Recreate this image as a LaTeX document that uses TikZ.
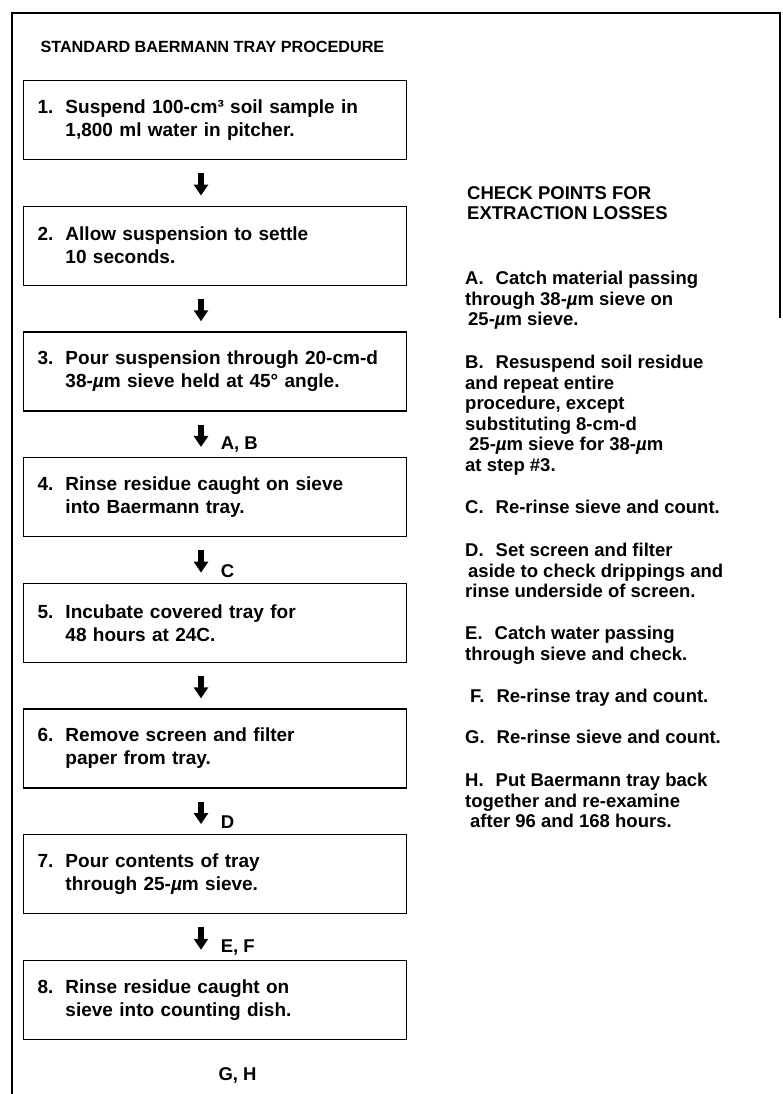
\documentclass[tikz,border=0pt]{standalone}
\usepackage{fontspec}
\setsansfont{Liberation Sans}
\usetikzlibrary{arrows.meta}
\newcommand{\mcr}{{\itshape µ}m}
\newcommand{\chk}[1]{#1\hspace{12pt}}
\newcommand{\stepno}[1]{\makebox[28pt][l]{#1}}
\newcommand{\stepin}{\hspace*{28pt}}
\tikzset{
  stepbox/.style={draw, line width=1.3pt, minimum width=383pt, minimum height=79pt,
    text width=355pt, align=left, inner sep=0pt,
    font=\fontsize{19}{23}\selectfont\sffamily\bfseries},
  flowarrow/.style={line width=6pt, -{Triangle[width=14pt,length=11pt]},
    shorten <=13pt, shorten >=10pt},
  arrowlabel/.style={anchor=west, xshift=13.5pt, yshift=12pt,
    font=\fontsize{18.5}{20.5}\selectfont\sffamily\bfseries},
  checktext/.style={anchor=north west, align=left, inner sep=0pt,
    font=\fontsize{18.5}{20.5}\selectfont\sffamily\bfseries}
}
\begin{document}
\begin{tikzpicture}[x=1pt, y=-1pt, every node/.style={font=\sffamily\bfseries}]
  \useasboundingbox (0,0) rectangle (783,1094);
  % outer frame
  \draw[line width=1.4pt] (12,1094) -- (12,13) -- (780,13) -- (780,318);
  \node[anchor=west, font=\fontsize{16.2}{20}\selectfont\sffamily\bfseries] (title) at (37,47)
    {STANDARD BAERMANN TRAY PROCEDURE};
  % procedure steps
  \foreach \i/\txt in {
      1/{\stepno{1.}Suspend 100-cm³ soil sample in\\\stepin 1,800 ml water in pitcher.},
      2/{\stepno{2.}Allow suspension to settle\\\stepin 10 seconds.},
      3/{\stepno{3.}Pour suspension through 20-cm-d\\\stepin 38-\mcr{} sieve held at 45° angle.},
      4/{\stepno{4.}Rinse residue caught on sieve\\\stepin into Baermann tray.},
      5/{\stepno{5.}Incubate covered tray for\\\stepin 48 hours at 24C.},
      6/{\stepno{6.}Remove screen and filter\\\stepin paper from tray.},
      7/{\stepno{7.}Pour contents of tray\\\stepin through 25-\mcr{} sieve.},
      8/{\stepno{8.}Rinse residue caught on\\\stepin sieve into counting dish.}} {
    \node[stepbox] (s\i) at (215,{120+(\i-1)*125.7}) {\txt};
  }
  \foreach \i/\j/\lab in {1/2/{}, 2/3/{}, 3/4/{A, B}, 4/5/C, 5/6/{}, 6/7/D, 7/8/{E, F}} {
    \draw[flowarrow] ([xshift=-14pt]s\i.south) -- ([xshift=-14pt]s\j.north)
      node[arrowlabel] (l\i) {\lab};
  }
  \node[arrowlabel, xshift=-13.5pt, yshift=-12pt] (gh) at ([yshift=-35pt]s8.south) {G, H};
  % check points
  \node[checktext] (head) at (467,186) {CHECK POINTS FOR\\EXTRACTION LOSSES};
  \node[checktext] (ca) at (465,271) {\chk{A.}Catch material passing\\through 38-\mcr{} sieve on\\\hspace*{3pt}25-\mcr{} sieve.};
  \node[checktext] (cb) at (465,355) {\chk{B.}Resuspend soil residue\\and repeat entire\\procedure, except\\substituting 8-cm-d\\\hspace*{4pt}25-\mcr{} sieve for 38-\mcr\\at step \#3.};
  \node[checktext] (cc) at (465,500) {\chk{C.}Re-rinse sieve and count.};
  \node[checktext] (cd) at (465,543) {\chk{D.}Set screen and filter\\\hspace*{3pt}aside to check drippings and\\rinse underside of screen.};
  \node[checktext] (ce) at (465,626) {\chk{E.}Catch water passing\\through sieve and check.};
  \node[checktext] (cf) at (465,689) {\hspace*{5pt}\chk{F.}Re-rinse tray and count.};
  \node[checktext] (cg) at (465,730) {\chk{G.}Re-rinse sieve and count.};
  \node[checktext] (ch) at (465,773) {\chk{H.}Put Baermann tray back\\together and re-examine\\\hspace*{5pt}after 96 and 168 hours.};
\end{tikzpicture}
\end{document}
